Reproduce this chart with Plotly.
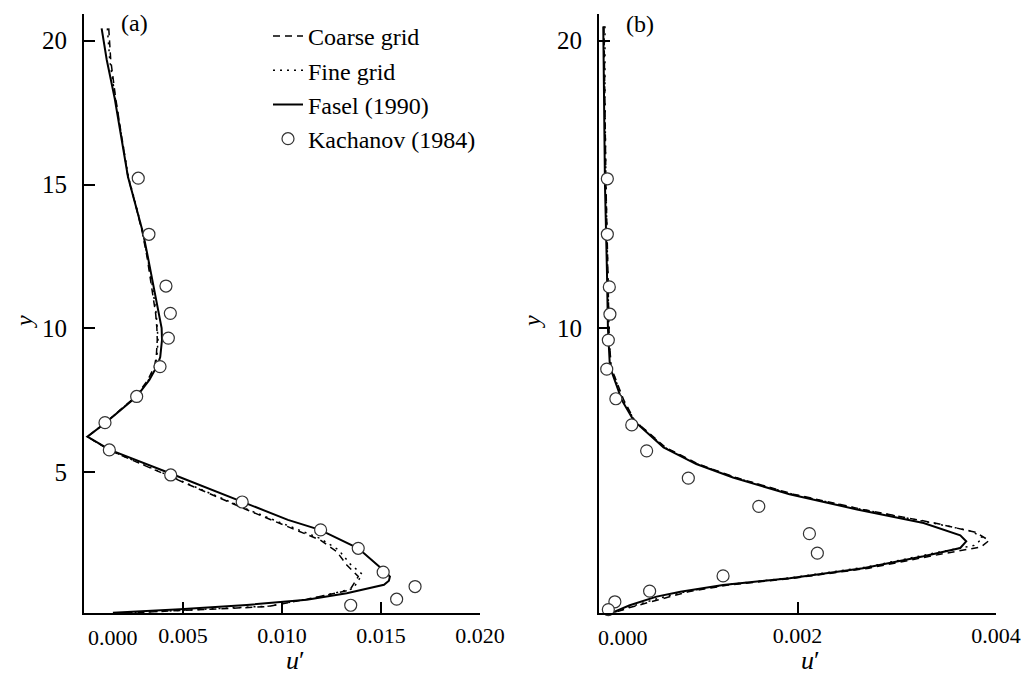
import plotly.graph_objects as go

# ---------------- Panel (a) data ----------------
a_fasel_y = [20.43, 19.33, 18.0, 16.32, 15.27, 14.3, 13.32, 12.5, 11.58, 10.5, 10.01, 9.6, 9.0, 8.7, 8.2,
             7.63, 6.70, 6.23, 5.77, 4.96, 3.97, 3.34, 2.99, 2.35, 1.60, 1.37, 1.22, 1.08, 0.79, 0.56, 0.38, 0.23, 0.11]
a_fasel_x = [0.00089, 0.00115, 0.00155, 0.00197, 0.00222, 0.00260, 0.00298, 0.00322, 0.00348, 0.00380, 0.00392,
             0.00394, 0.00385, 0.00370, 0.00330, 0.00266, 0.00106, 0.00017, 0.00131, 0.00434, 0.00797, 0.01030,
             0.01192, 0.01385, 0.01511, 0.01545, 0.01540, 0.01515, 0.01327, 0.01125, 0.00822, 0.00485, 0.00146]

a_coarse_y = [20.43, 19.33, 18.0, 16.32, 15.27, 14.3, 13.32, 12.5, 11.58, 10.5, 10.0, 9.6, 9.0, 8.66, 8.2,
              7.63, 6.70, 6.23, 5.77, 4.96, 3.97, 3.69, 2.64, 2.24, 1.77, 1.37, 0.90, 0.62, 0.32, 0.17, 0.08]
a_coarse_x = [0.00125, 0.00135, 0.00160, 0.00197, 0.00222, 0.00260, 0.00295, 0.00318, 0.00340, 0.00362, 0.00368,
              0.00370, 0.00365, 0.00355, 0.00322, 0.00262, 0.00104, 0.00018, 0.00125, 0.00395, 0.00730, 0.00822,
              0.01192, 0.01276, 0.01327, 0.01385, 0.01343, 0.01157, 0.00923, 0.00485, 0.00146]

a_fine_y = [20.43, 19.33, 18.0, 16.32, 15.27, 14.3, 13.32, 12.5, 11.58, 10.5, 10.0, 9.6, 9.0, 8.66, 8.2,
            7.63, 6.70, 6.23, 5.77, 4.96, 3.97, 3.69, 2.70, 2.30, 1.80, 1.45, 0.95, 0.64, 0.34, 0.18, 0.08]
a_fine_x = [0.00118, 0.00130, 0.00158, 0.00199, 0.00224, 0.00262, 0.00297, 0.00320, 0.00343, 0.00365, 0.00372,
            0.00374, 0.00368, 0.00358, 0.00325, 0.00264, 0.00105, 0.00018, 0.00127, 0.00400, 0.00740, 0.00830,
            0.01190, 0.01285, 0.01345, 0.01405, 0.01360, 0.01170, 0.00935, 0.00490, 0.00150]

a_kach_x = [0.00274, 0.00328, 0.00414, 0.00436, 0.00426, 0.00384, 0.00266, 0.00106, 0.00128, 0.00438,
            0.00799, 0.01195, 0.01385, 0.01511, 0.01672, 0.01579, 0.01347]
a_kach_y = [15.22, 13.27, 11.47, 10.52, 9.66, 8.67, 7.63, 6.72, 5.77, 4.90,
            3.96, 2.99, 2.35, 1.52, 1.02, 0.58, 0.37]

# ---------------- Panel (b) data ----------------
b_fasel_y = [20.5, 18.0, 15.0, 12.0, 10.0, 8.66, 8.19, 7.5, 6.79, 5.86, 5.28, 4.81, 4.23, 3.70, 3.23, 2.80,
             2.59, 2.36, 2.07, 1.66, 1.31, 1.07, 0.84, 0.67, 0.37, 0.08]
b_fasel_x = [0.000043, 0.00005, 0.00006, 0.00008, 0.00009, 0.00011, 0.00016, 0.00023, 0.00035, 0.00065, 0.00098,
             0.00135, 0.00192, 0.00260, 0.00327, 0.00364, 0.00370, 0.00364, 0.00327, 0.00266, 0.00192, 0.00125,
             0.00082, 0.00058, 0.00031, 0.00011]

b_coarse_y = [20.5, 18.0, 15.0, 12.0, 10.0, 8.66, 8.19, 7.5, 6.79, 5.86, 5.28, 4.81, 4.23, 3.70, 3.23, 2.90,
              2.62, 2.40, 2.15, 1.66, 1.31, 1.07, 0.84, 0.60, 0.30, 0.05]
b_coarse_x = [0.00005, 0.00006, 0.00007, 0.00009, 0.00010, 0.00012, 0.00017, 0.00025, 0.00036, 0.00067, 0.00100,
              0.00138, 0.00196, 0.00266, 0.00338, 0.00380, 0.00393, 0.00385, 0.00345, 0.00272, 0.00196, 0.00130,
              0.00090, 0.00063, 0.00032, 0.00010]

b_fine_y = [20.5, 18.0, 15.0, 12.0, 10.0, 8.66, 8.19, 7.5, 6.79, 5.86, 5.28, 4.81, 4.23, 3.70, 3.23, 2.95,
            2.71, 2.45, 2.20, 1.70, 1.33, 1.08, 0.85, 0.62, 0.31, 0.06]
b_fine_x = [0.00006, 0.00006, 0.00007, 0.00009, 0.00010, 0.00012, 0.00017, 0.00024, 0.00036, 0.00066, 0.00099,
            0.00137, 0.00195, 0.00265, 0.00336, 0.00375, 0.00387, 0.00378, 0.00340, 0.00270, 0.00195, 0.00128,
            0.00088, 0.00061, 0.00031, 0.00010]

b_kach_x = [0.000084, 0.000084, 0.000104, 0.00011, 0.000094, 0.000078, 0.00017, 0.00033, 0.00048, 0.00090,
            0.00161, 0.00212, 0.00220, 0.00125, 0.00051, 0.00016, 0.000094]
b_kach_y = [15.20, 13.27, 11.44, 10.49, 9.59, 8.58, 7.55, 6.64, 5.74, 4.79,
            3.81, 2.86, 2.18, 1.39, 0.86, 0.49, 0.22]

# ---------------- Axes ticks ----------------
a_xtick_vals = [0.005, 0.010, 0.015, 0.020]
a_xtick_text = ["0.005", "0.010", "0.015", "0.020"]
b_xtick_vals = [0.002, 0.004]
b_xtick_text = ["0.002", "0.004"]
a_ytick_vals = [5, 10, 15, 20]
b_ytick_vals = [10, 20]
zero_label = "0.000"

names = ["Coarse grid", "Fine grid", "Fasel (1990)", "Kachanov (1984)"]

FONT = "Liberation Serif"
OFF = 8                      # page body margin in the browser
FW, FH = 1029 - OFF, 683 - OFF


def px(x):
    return (x - OFF) / FW


def py(y):
    return 1 - (y - OFF) / FH


fig = go.Figure()


def add_panel(xa, ya, cx, cy, fx, fy, sx, sy, kx, ky, show):
    fig.add_trace(go.Scatter(x=cx, y=cy, mode="lines", name=names[0], showlegend=show, legendrank=1,
                             line=dict(color="black", width=1.5, dash="7px,5px"), xaxis=xa, yaxis=ya))
    fig.add_trace(go.Scatter(x=fx, y=fy, mode="lines", name=names[1], showlegend=show, legendrank=2,
                             line=dict(color="black", width=1.5, dash="2px,5px"), xaxis=xa, yaxis=ya))
    fig.add_trace(go.Scatter(x=sx, y=sy, mode="lines", name=names[2], showlegend=show, legendrank=3,
                             line=dict(color="black", width=2), xaxis=xa, yaxis=ya))
    fig.add_trace(go.Scatter(x=kx, y=ky, mode="markers", name=names[3], showlegend=show, legendrank=4,
                             marker=dict(symbol="circle", size=12, color="white",
                                         line=dict(color="#333333", width=1.2)),
                             xaxis=xa, yaxis=ya, cliponaxis=False))


add_panel("x", "y", a_coarse_x, a_coarse_y, a_fine_x, a_fine_y, a_fasel_x, a_fasel_y, a_kach_x, a_kach_y, True)
add_panel("x2", "y2", b_coarse_x, b_coarse_y, b_fine_x, b_fine_y, b_fasel_x, b_fasel_y, b_kach_x, b_kach_y, False)

y0, y1 = 0.1, 20.93
ydom = [py(613), py(14)]

common_x = dict(showline=True, linecolor="black", linewidth=2, ticks="inside", ticklen=11, tickwidth=2,
                tickcolor="black", showgrid=False, zeroline=False, mirror=False, automargin=False,
                tickfont=dict(family=FONT, size=22, color="black"), ticklabelstandoff=2)
common_y = dict(showline=True, linecolor="black", linewidth=2, ticks="inside", ticklen=11, tickwidth=2,
                tickcolor="black", showgrid=False, zeroline=False, mirror=False, automargin=False,
                tickfont=dict(family=FONT, size=25, color="black"), ticklabelstandoff=10)

fig.update_layout(
    width=FW, height=FH,
    margin=dict(l=0, r=0, t=0, b=0, autoexpand=False),
    paper_bgcolor="white", plot_bgcolor="white",
    xaxis=dict(domain=[px(84), px(480)], range=[0, 0.020], tickvals=a_xtick_vals, ticktext=a_xtick_text,
               anchor="y", **common_x),
    yaxis=dict(domain=ydom, range=[y0, y1], tickvals=a_ytick_vals, anchor="x", **common_y),
    xaxis2=dict(domain=[px(599), px(996)], range=[0, 0.004], tickvals=b_xtick_vals, ticktext=b_xtick_text,
                anchor="y2", **common_x),
    yaxis2=dict(domain=ydom, range=[y0, y1], tickvals=b_ytick_vals, anchor="x2", **common_y),
    showlegend=True,
    legend=dict(x=px(268), y=py(14), xanchor="left", yanchor="top",
                font=dict(family=FONT, size=24, color="black"), bgcolor="rgba(0,0,0,0)",
                tracegroupgap=0, itemwidth=30),
)

ann = []
# zero tick labels (offset to the right of the y axis)
ann.append(dict(text=zero_label, x=0, y=py(623), xref="x", yref="paper", xanchor="left", yanchor="top",
                xshift=2, showarrow=False, font=dict(family=FONT, size=22, color="black")))
ann.append(dict(text=zero_label, x=0, y=py(623), xref="x2", yref="paper", xanchor="left", yanchor="top",
                xshift=-3, showarrow=False, font=dict(family=FONT, size=22, color="black")))
# axis titles
for xpos in (295, 810):
    ann.append(dict(text="<i>u</i>′", x=px(xpos), y=py(660), xref="paper", yref="paper", showarrow=False,
                    xanchor="center", yanchor="middle", font=dict(family=FONT, size=26, color="black")))
for xpos in (24, 532):
    ann.append(dict(text="<i>y</i>", x=px(xpos), y=py(322), xref="paper", yref="paper", showarrow=False,
                    xanchor="center", yanchor="middle", textangle=-90,
                    font=dict(family=FONT, size=24, color="black")))
# panel labels
ann.append(dict(text="(a)", x=px(134), y=py(23), xref="paper", yref="paper", showarrow=False,
                xanchor="center", yanchor="middle", font=dict(family=FONT, size=24, color="black")))
ann.append(dict(text="(b)", x=px(640), y=py(24), xref="paper", yref="paper", showarrow=False,
                xanchor="center", yanchor="middle", font=dict(family=FONT, size=24, color="black")))
fig.update_layout(annotations=ann)

fig.write_html("out.html")
